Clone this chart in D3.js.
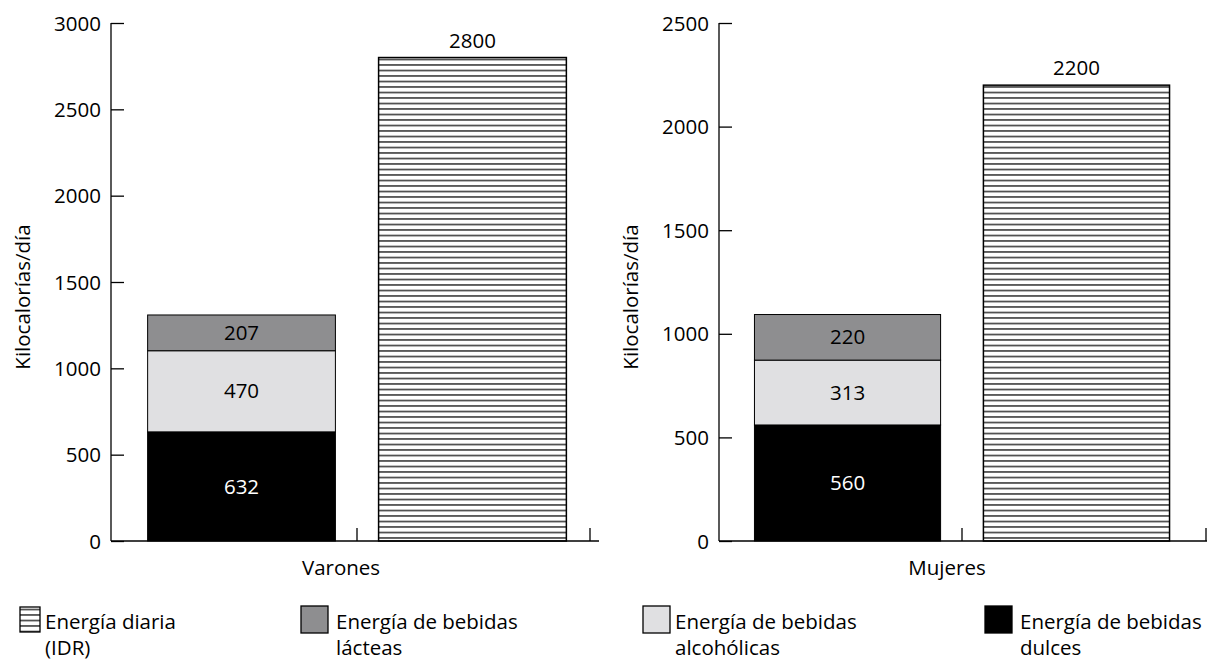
<!DOCTYPE html>
<html><head><meta charset="utf-8">
<script src="https://cdn.jsdelivr.net/npm/d3@7/dist/d3.min.js"></script>
<style>
body{margin:0;background:#fff;}
text{font-family:"Open Sans","Noto Sans",sans-serif;fill:#000;}
</style></head>
<body>
<svg id="chart" width="1212" height="662"></svg>
<script>
// ---- data ----
const groups = ["Varones", "Mujeres"];
const dulces = [632, 560];
const alcoholicas = [470, 313];
const lacteas = [207, 220];
const idr = [2800, 2200];
const yMaxes = [3000, 2500];
const yTickValues = [[0, 500, 1000, 1500, 2000, 2500, 3000], [0, 500, 1000, 1500, 2000, 2500]];
const yLabel = "Kilocalorías/día";
const legendLabels = [["Energía diaria", "(IDR)"], ["Energía de bebidas", "lácteas"], ["Energía de bebidas", "alcohólicas"], ["Energía de bebidas", "dulces"]];

// ---- styles / layout ----
const colDulces = "#000000", colAlc = "#e0e0e2", colLact = "#8e8e90";
const FS = 20.5;
const panels = [
  {axisX: 111, range: [128, 586], endTick: 590, axisEnd: 599, labelX: 341, yLabX: 30},
  {axisX: 719, range: [735, 1189], endTick: 1206, axisEnd: 1207, labelX: 947, yLabX: 638}
];
const yTop = 23, yBot = 541;

const svg = d3.select("#chart");
const defs = svg.append("defs");
const pat = defs.append("pattern").attr("id", "hatch").attr("patternUnits", "userSpaceOnUse")
  .attr("width", 10).attr("height", 5.5);
pat.append("rect").attr("width", 10).attr("height", 5.5).attr("fill", "#fff");
pat.append("line").attr("x1", 0).attr("x2", 10).attr("y1", 4.5).attr("y2", 4.5)
  .attr("stroke", "#111").attr("stroke-width", 1.3);

groups.forEach((g, i) => {
  const P = panels[i];
  const y = d3.scaleLinear().domain([0, yMaxes[i]]).range([yBot, yTop]);
  const x = d3.scaleBand().domain(["bebidas", "idr"]).range(P.range).paddingInner(0.187).paddingOuter(0.085);
  const bw = x.bandwidth();
  const G = svg.append("g");

  // y axis
  const yAxis = d3.axisRight(y).tickValues(yTickValues[i]).tickSize(13).tickFormat(d3.format("d"));
  const ya = G.append("g").attr("transform", `translate(${P.axisX},0)`).call(yAxis);
  ya.select(".domain").remove();
  ya.selectAll(".tick line").attr("stroke", "#000").attr("stroke-width", 1.3);
  ya.selectAll(".tick text").attr("x", -10).attr("text-anchor", "end").attr("dy", "0.35em")
    .style("font-size", FS + "px").style("font-family", '"Open Sans",sans-serif');
  G.append("line").attr("x1", P.axisX).attr("x2", P.axisX).attr("y1", y(yMaxes[i])).attr("y2", yBot)
    .attr("stroke", "#000").attr("stroke-width", 1.3);

  // stacked bar
  const segs = [
    {v0: 0, v1: dulces[i], c: colDulces, tc: "#fff", v: dulces[i]},
    {v0: dulces[i], v1: dulces[i] + alcoholicas[i], c: colAlc, tc: "#000", v: alcoholicas[i]},
    {v0: dulces[i] + alcoholicas[i], v1: dulces[i] + alcoholicas[i] + lacteas[i], c: colLact, tc: "#000", v: lacteas[i]}
  ];
  segs.forEach(s => {
    G.append("rect").attr("x", x("bebidas")).attr("width", bw)
      .attr("y", y(s.v1)).attr("height", y(s.v0) - y(s.v1))
      .attr("fill", s.c).attr("stroke", "#000").attr("stroke-width", 1);
    G.append("text").attr("x", x("bebidas") + bw / 2).attr("y", (y(s.v0) + y(s.v1)) / 2)
      .attr("dy", "0.35em").attr("text-anchor", "middle").style("font-size", FS + "px")
      .style("fill", s.tc).text(s.v);
  });

  // hatched bar
  G.append("rect").attr("x", x("idr")).attr("width", bw).attr("y", y(idr[i])).attr("height", yBot - y(idr[i]))
    .attr("fill", "url(#hatch)").attr("stroke", "#000").attr("stroke-width", 1.5);
  G.append("text").attr("x", x("idr") + bw / 2).attr("y", y(idr[i]) - 10).attr("text-anchor", "middle")
    .style("font-size", FS + "px").text(idr[i]);

  // x axis
  G.append("line").attr("x1", P.axisX).attr("x2", P.axisEnd).attr("y1", yBot).attr("y2", yBot)
    .attr("stroke", "#000").attr("stroke-width", 1.3);
  const midTick = (x("bebidas") + bw + x("idr")) / 2;
  [midTick, P.endTick].forEach(t => {
    G.append("line").attr("x1", t).attr("x2", t).attr("y1", yBot).attr("y2", yBot - 13)
      .attr("stroke", "#000").attr("stroke-width", 1.3);
  });
  G.append("text").attr("x", P.labelX).attr("y", yBot + 34).attr("text-anchor", "middle")
    .style("font-size", FS + "px").text(g);

  // y label
  G.append("text").attr("transform", `translate(${P.yLabX},${(yTop + yBot) / 2 + 15}) rotate(-90)`)
    .attr("text-anchor", "middle").style("font-size", FS + "px").text(yLabel);
});

// legend
const legX = [20, 301, 643, 985];
const legendFills = ["url(#hatch)", colLact, colAlc, colDulces];
legendLabels.forEach((lab, k) => {
  const L = svg.append("g").attr("transform", `translate(${legX[k]},0)`);
  if (k === 0) {
    L.append("rect").attr("x", 0).attr("y", 607).attr("width", 20).attr("height", 25)
      .attr("fill", "url(#hatch)").attr("stroke", "#000").attr("stroke-width", 1.3);
  } else {
    L.append("rect").attr("x", 0).attr("y", 606).attr("width", 27).attr("height", 27)
      .attr("fill", legendFills[k]).attr("stroke", "#000").attr("stroke-width", 1.3);
  }
  const tx = k === 0 ? 25 : (k === 2 ? 32 : 35);
  L.append("text").attr("x", tx).attr("y", 629).style("font-size", FS + "px").text(lab[0]);
  L.append("text").attr("x", tx).attr("y", 655).style("font-size", FS + "px").text(lab[1]);
});
</script>
</body></html>
